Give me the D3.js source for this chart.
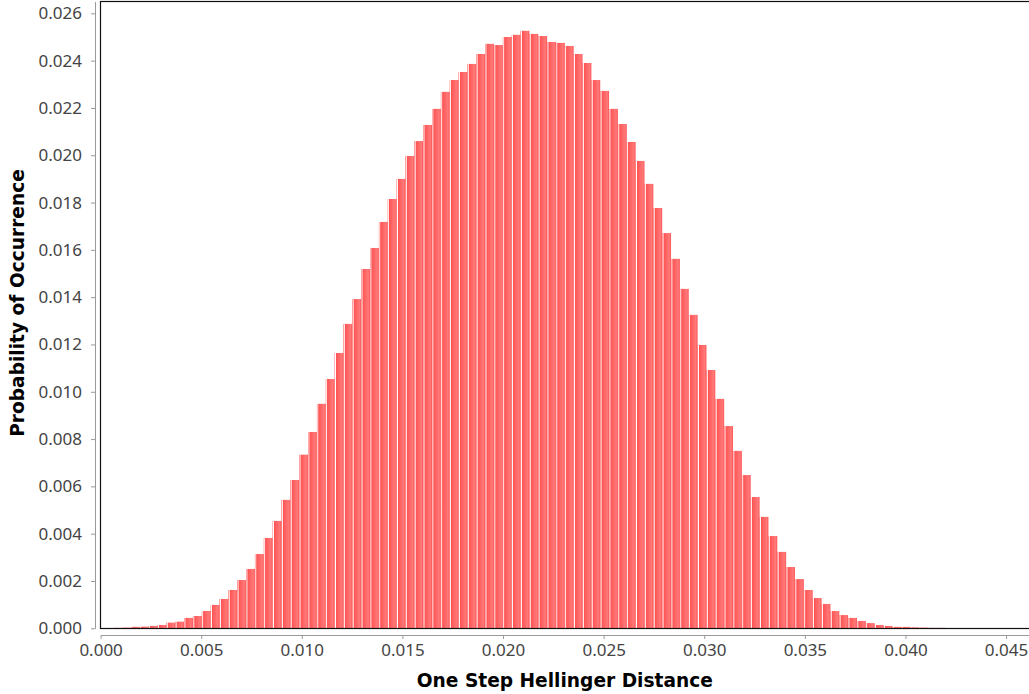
<!DOCTYPE html>
<html>
<head>
<meta charset="utf-8">
<script src="https://cdn.jsdelivr.net/npm/d3@7"></script>
<style>
  html, body { margin: 0; padding: 0; background: #ffffff; }
  svg { display: block; }
</style>
</head>
<body>
<svg id="chart" width="1029" height="694"></svg>
<script>
// ---- data ----
const binMin = 0.00019;     // lower edge of first histogram bin
const binWidth = 0.00044;   // histogram bin width
const probabilities = [
  0.00001, 0.00002, 0.00003, 0.00006, 0.00007, 0.00010, 0.00014, 0.00024, 0.00028, 0.00044,
  0.00052, 0.00073, 0.00099, 0.00124, 0.00162, 0.00204, 0.00251, 0.00314, 0.00382, 0.00454,
  0.00543, 0.00627, 0.00734, 0.00830, 0.00949, 0.01054, 0.01164, 0.01287, 0.01392, 0.01519,
  0.01608, 0.01718, 0.01815, 0.01900, 0.01997, 0.02060, 0.02128, 0.02196, 0.02268, 0.02318,
  0.02352, 0.02386, 0.02428, 0.02471, 0.02466, 0.02500, 0.02509, 0.02526, 0.02513, 0.02504,
  0.02479, 0.02475, 0.02462, 0.02428, 0.02390, 0.02318, 0.02272, 0.02196, 0.02132, 0.02056,
  0.01976, 0.01879, 0.01777, 0.01671, 0.01562, 0.01435, 0.01325, 0.01198, 0.01092, 0.00970,
  0.00855, 0.00750, 0.00648, 0.00555, 0.00471, 0.00390, 0.00323, 0.00259, 0.00208, 0.00162,
  0.00128, 0.00103, 0.00073, 0.00056, 0.00044, 0.00031, 0.00022, 0.00014, 0.00010, 0.00006,
  0.00006, 0.00004, 0.00003, 0.00002, 0.00002, 0.00001, 0.00001, 0.00001, 0.00001, 0.00001
];
const xTicks = [0.000, 0.005, 0.010, 0.015, 0.020, 0.025, 0.030, 0.035, 0.040, 0.045];
const yTicks = [0.000, 0.002, 0.004, 0.006, 0.008, 0.010, 0.012, 0.014, 0.016, 0.018, 0.020, 0.022, 0.024, 0.026];
const xTitle = "One Step Hellinger Distance";
const yTitle = "Probability of Occurrence";

// ---- layout ----
const plot = { left: 100.6, right: 1029, top: 1.5, bottom: 628.3 };
const FONT = "'Noto Sans', 'DejaVu Sans', sans-serif";
const TITLE_FONT = "'DejaVu Sans', 'Noto Sans', sans-serif";

const svg = d3.select("#chart");

const x = d3.scaleLinear().domain([0, 0.04614]).range([plot.left, plot.right]);
const y = d3.scaleLinear().domain([0, 0.0265]).range([plot.bottom, plot.top]);

const bins = probabilities.map((p, i) => ({
  x0: binMin + i * binWidth,
  x1: binMin + (i + 1) * binWidth,
  p: p
}));

// gradient (JFreeChart GradientXYBarPainter style)
const c0 = "#ff5555", c1 = "#ff7979";
const defs = svg.append("defs");
const grad = defs.append("linearGradient")
  .attr("id", "barGrad").attr("x1", "0").attr("x2", "1").attr("y1", "0").attr("y2", "0");
[[0, c0], [0.10, "#ffffff"], [0.20, c0], [0.80, c1], [1, c0]].forEach(([o, c]) => {
  grad.append("stop").attr("offset", o).attr("stop-color", c);
});
defs.append("clipPath").attr("id", "plotClip")
  .append("rect")
  .attr("x", plot.left).attr("y", plot.top)
  .attr("width", plot.right - plot.left).attr("height", plot.bottom - plot.top);

// bars
svg.append("g").attr("clip-path", "url(#plotClip)")
  .selectAll("rect").data(bins).join("rect")
  .attr("x", d => x(d.x0))
  .attr("width", d => x(d.x1) - x(d.x0))
  .attr("y", d => y(d.p))
  .attr("height", d => y(0) - y(d.p))
  .attr("fill", "url(#barGrad)");

// plot outline
svg.append("rect")
  .attr("x", plot.left - 0.1).attr("y", plot.top)
  .attr("width", plot.right - plot.left + 10).attr("height", plot.bottom - plot.top + 0.2)
  .attr("fill", "none").attr("stroke", "#111").attr("stroke-width", 1.2);

// y axis
const yAxis = svg.append("g")
  .attr("transform", "translate(95,0)")
  .call(d3.axisLeft(y).tickValues(yTicks).tickFormat(d3.format(".3f"))
        .tickSizeInner(4).tickSizeOuter(0).tickPadding(9));
yAxis.select(".domain").attr("stroke", "#9a9a9a");
yAxis.selectAll(".tick line").attr("stroke", "#9a9a9a");
yAxis.selectAll(".tick text").attr("fill", "#444").style("font-family", FONT).style("font-size", "17px");

// x axis
const xAxis = svg.append("g")
  .attr("transform", "translate(0,635)")
  .call(d3.axisBottom(x).tickValues(xTicks).tickFormat(d3.format(".3f"))
        .tickSizeInner(4).tickSizeOuter(0).tickPadding(5));
xAxis.select(".domain").attr("stroke", "#9a9a9a");
xAxis.selectAll(".tick line").attr("stroke", "#9a9a9a");
xAxis.selectAll(".tick text").attr("fill", "#444").style("font-family", FONT).style("font-size", "17px");

// axis titles
svg.append("text")
  .attr("x", (plot.left + plot.right) / 2).attr("y", 687)
  .attr("text-anchor", "middle")
  .style("font-family", TITLE_FONT).style("font-size", "18.6px").style("font-weight", "bold")
  .attr("fill", "#000")
  .text(xTitle);

svg.append("text")
  .attr("transform", "translate(24,303) rotate(-90)")
  .attr("text-anchor", "middle")
  .style("font-family", TITLE_FONT).style("font-size", "18.6px").style("font-weight", "bold")
  .attr("fill", "#000")
  .text(yTitle);
</script>
</body>
</html>
